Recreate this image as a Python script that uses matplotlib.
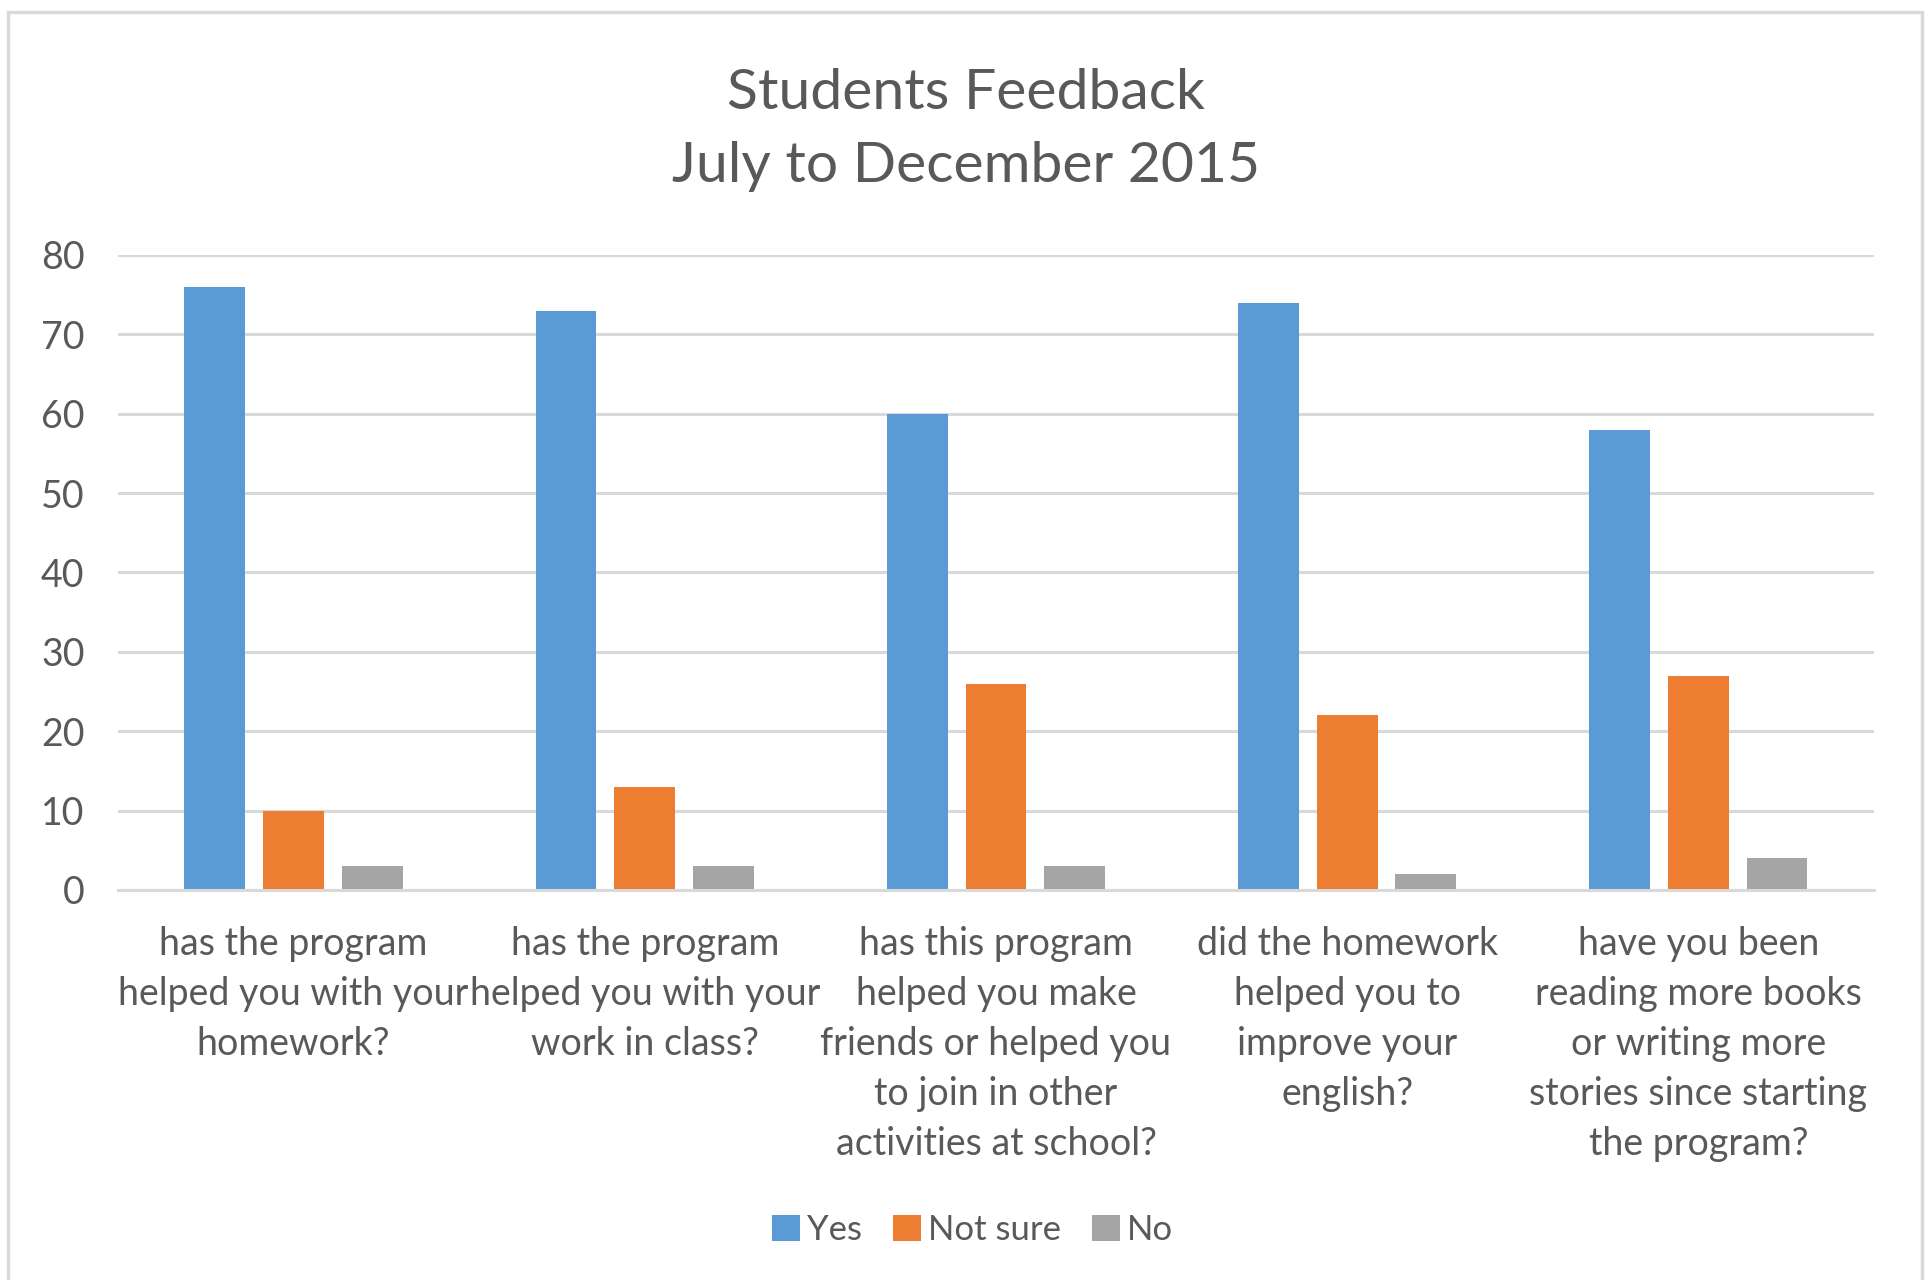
import matplotlib.pyplot as plt
from matplotlib.patches import Rectangle
import numpy as np

plt.rcParams["font.family"] = ["Lato", "DejaVu Sans"]

questions = [
    "has the program\nhelped you with your\nhomework?",
    "has the program\nhelped you with your\nwork in class?",
    "has this program\nhelped you make\nfriends or helped you\nto join in other\nactivities at school?",
    "did the homework\nhelped you to\nimprove your\nenglish?",
    "have you been\nreading more books\nor writing more\nstories since starting\nthe program?",
]
series_names = ["Yes", "Not sure", "No"]
yes = [76, 73, 60, 74, 58]
not_sure = [10, 13, 26, 22, 27]
no = [3, 3, 3, 2, 4]
y_ticks = [0, 10, 20, 30, 40, 50, 60, 70, 80]

colors = ["#5B9BD5", "#ED7D31", "#A5A5A5"]
text_color = "#595959"
grid_color = "#D9D9D9"

fig = plt.figure(figsize=(19.33, 12.8), dpi=100)
ax = fig.add_axes([0.061, 0.3047, 0.9085, 0.4961])

x = np.arange(len(questions))
width = 0.173
step = 0.224

for i, (name, vals) in enumerate(zip(series_names, [yes, not_sure, no])):
    ax.bar(x + (i - 1) * step, vals, width, color=colors[i], label=name, zorder=3)

ax.set_xlim(-0.5, len(questions) - 0.5)
ax.set_ylim(0, 80)
ax.set_yticks(y_ticks)
ax.set_xticks(x)
ax.set_xticklabels(questions, linespacing=1.48)

ax.tick_params(axis="y", length=0, pad=24, labelsize=27, labelcolor=text_color)
ax.tick_params(axis="x", length=0, pad=26, labelsize=27, labelcolor=text_color)

ax.yaxis.grid(True, color=grid_color, linewidth=2.2, zorder=0)
for s in ["top", "right", "left"]:
    ax.spines[s].set_visible(False)
ax.spines["bottom"].set_color(grid_color)
ax.spines["bottom"].set_linewidth(2.2)
ax.spines["bottom"].set_zorder(4)

fig.text(0.5, 0.8986, "Students Feedback\nJuly to December 2015",
         ha="center", va="center", fontsize=41, color=text_color, linespacing=1.53)

fig.legend(loc="center", bbox_to_anchor=(0.503, 0.039), ncol=3, frameon=False,
           fontsize=25, labelcolor=text_color, handlelength=0.8, handleheight=0.8,
           handletextpad=0.2, columnspacing=0.9)

# light outer frame
fig.patches.append(Rectangle((8 / 1933, -0.05), 1914 / 1933, 1.05 - 12 / 1280,
                             transform=fig.transFigure, fill=False,
                             edgecolor=grid_color, linewidth=2.5))

fig.savefig("out.png", dpi=100, facecolor="white")
